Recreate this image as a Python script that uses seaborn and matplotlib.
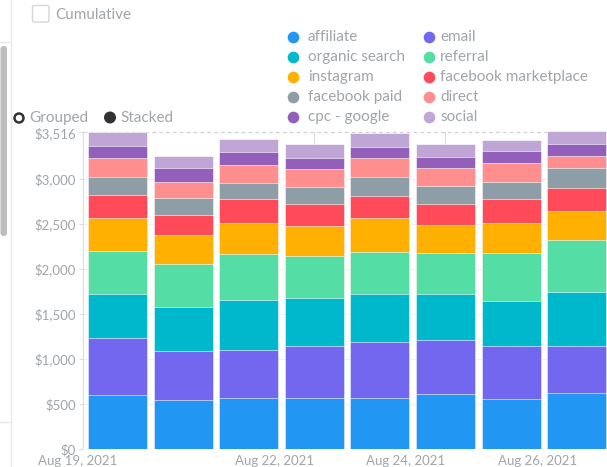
import numpy as np
import pandas as pd
import seaborn as sns
import matplotlib
matplotlib.use("Agg")
import matplotlib.pyplot as plt
from matplotlib.patches import FancyBboxPatch, Circle
from matplotlib.lines import Line2D

# ---------------- data ----------------
dates = ["Aug 19, 2021", "Aug 20, 2021", "Aug 21, 2021", "Aug 22, 2021",
         "Aug 23, 2021", "Aug 24, 2021", "Aug 25, 2021", "Aug 26, 2021"]
channels = ["affiliate", "email", "organic search", "referral", "instagram",
            "facebook marketplace", "facebook paid", "direct", "cpc - google", "social"]
affiliate = [599, 544, 569, 563, 563, 614, 552, 618]
email = [630, 544, 526, 584, 628, 592, 591, 529]
organic_search = [488, 485, 559, 532, 529, 511, 500, 599]
referral = [481, 477, 507, 466, 470, 455, 536, 574]
instagram = [362, 325, 344, 333, 370, 314, 326, 325]
facebook_marketplace = [259, 222, 270, 241, 251, 230, 270, 255]
facebook_paid = [196, 192, 174, 189, 204, 203, 192, 222]
direct = [211, 178, 203, 196, 211, 196, 204, 133]
cpc_google = [141, 155, 148, 129, 126, 126, 140, 133]
social = [149, 130, 137, 149, 152, 141, 122, 141]
colors = ["#2196f3", "#7367f0", "#00b8cc", "#55dda6", "#ffb000",
          "#ff4a5a", "#8d9ea7", "#ff8e8e", "#9260bb", "#bfa6d5"]
tick_dates = [0, 3, 5, 7]
y_ticks = [0, 500, 1000, 1500, 2000, 2500, 3000, 3516]
y_max = 3516

series = [affiliate, email, organic_search, referral, instagram,
          facebook_marketplace, facebook_paid, direct, cpc_google, social]

rows = []
for ch, vals in zip(channels, series):
    for d, v in zip(dates, vals):
        rows.append({"date": d, "channel": ch, "value": v})
df = pd.DataFrame(rows)
df["channel"] = pd.Categorical(df["channel"], categories=channels, ordered=True)
df["date"] = pd.Categorical(df["date"], categories=dates, ordered=True)
df = df.sort_values(["date", "channel"])
df["cum"] = df.groupby("date", observed=True)["value"].cumsum()

# ---------------- style ----------------
sns.set_theme(style="white")
plt.rcParams["font.family"] = ["Lato", "DejaVu Sans"]
GREY = "#a0a5aa"

W, H = 607, 467
fig = plt.figure(figsize=(W / 100, H / 100), dpi=100)

k = (449 - 132.3) / y_max
top_val = 3560
top_px = 449 - top_val * k
ax = fig.add_axes([83 / W, (H - 449) / H, 1 - 83 / W, (449 - top_px) / H])

# stacked bars drawn as cumulative layers, tallest first
for ch, col in reversed(list(zip(channels, colors))):
    sub = df[df["channel"] == ch]
    sns.barplot(data=sub, x="date", y="cum", order=dates, color=col,
                width=0.9, errorbar=None, ax=ax, saturation=1,
                edgecolor="white", linewidth=0.4, zorder=3)

ax.set_xlim(-0.526, 7.462)
ax.set_ylim(0, top_val)
ax.set_xlabel("")
ax.set_ylabel("")

# grid
for yv in y_ticks[1:-1]:
    ax.axhline(yv, color="#f0f0f0", lw=0.8, zorder=1)
ax.axhline(y_max, color="#cfd3d6", lw=0.9, ls=(0, (3, 2.5)), zorder=1)
ax.axhline(0, color="#eee6dc", lw=0.8, ls=(0, (1, 2)), zorder=1)
for xv in tick_dates:
    ax.plot([xv, xv], [0, y_max], color="#d9dcde", lw=0.8, zorder=1)

ax.set_yticks(y_ticks)
ax.set_yticklabels(["$" + format(v, ",") for v in y_ticks])
ax.set_xticks(tick_dates)
ax.set_xticklabels([dates[i] for i in tick_dates], ha="right")
ax.tick_params(axis="y", length=3, width=0.8, color="#e0dcd6", pad=2,
               labelsize=9.5, labelcolor=GREY, left=True)
ax.tick_params(axis="x", length=0, pad=4, labelsize=9.5, labelcolor=GREY)

for s in ["top", "right", "bottom"]:
    ax.spines[s].set_visible(False)
ax.spines["left"].set_color("#e3dfd9")
ax.spines["left"].set_linewidth(0.9)
ax.spines["left"].set_bounds(0, y_max)

# ---------------- overlay UI ----------------
ov = fig.add_axes([0, 0, 1, 1], zorder=5)
ov.set_xlim(0, W)
ov.set_ylim(H, 0)
ov.axis("off")
ov.patch.set_alpha(0)

# left panel strip
ov.plot([11, 11], [0, H], color="#e8e8e8", lw=1)
ov.plot([0, 11], [42, 42], color="#e8e8e8", lw=1)
ov.plot([0, 11], [422, 422], color="#e8e8e8", lw=1)
ov.add_patch(FancyBboxPatch((0.5, 46), 6.5, 190, boxstyle="round,pad=0,rounding_size=3",
                            fc="#bdbdbd", ec="none"))

# Cumulative checkbox
ov.add_patch(FancyBboxPatch((32.5, 5.5), 16.5, 16.5, boxstyle="round,pad=0,rounding_size=1.5",
                            fc="white", ec="#d6d6d6", lw=1))
ov.text(55, 15, "Cumulative", fontsize=11, color=GREY, va="center", ha="left")

# Grouped / Stacked radios
ov.add_patch(Circle((19, 118), 4.5, fc="white", ec="#333333", lw=1.8))
ov.text(29, 118, "Grouped", fontsize=11, color=GREY, va="center", ha="left")
ov.add_patch(Circle((110, 117.5), 6, fc="#333333", ec="none"))
ov.text(120, 118, "Stacked", fontsize=11, color=GREY, va="center", ha="left")

# legend (row-major, 2 columns)
col_dot = [293, 429]
col_txt = [308, 440]
row_y = [36.7, 56.7, 76.7, 96.7, 116.7]
for i, (ch, col) in enumerate(zip(channels, colors)):
    r, c = divmod(i, 2)
    ov.plot([col_dot[c]], [row_y[r]], marker="o", ms=8.4, color=col, mec="none")
    ov.text(col_txt[c], row_y[r], ch, fontsize=11, color=GREY, va="center", ha="left")

fig.savefig("out.png", dpi=100, facecolor="white")
